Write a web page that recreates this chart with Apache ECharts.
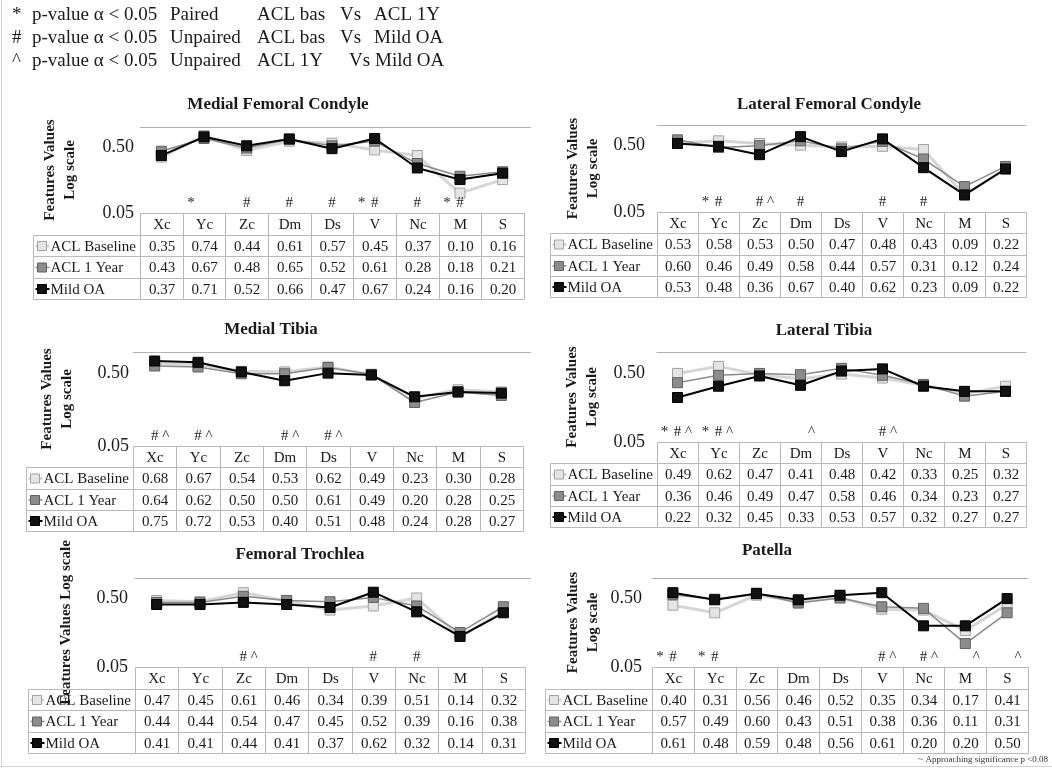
<!DOCTYPE html>
<html>
<head>
<meta charset="utf-8">
<script src="https://cdn.jsdelivr.net/npm/echarts@6/dist/echarts.min.js"></script>
<style>
  html, body { margin: 0; padding: 0; background: #ffffff; }
  #chart { width: 1052px; height: 768px; }
</style>
</head>
<body>
<div id="chart"></div>
<script>
// Shape features of cartilage regions, three cohorts, log-scaled values
const categories = ['Xc', 'Yc', 'Zc', 'Dm', 'Ds', 'V', 'Nc', 'M', 'S'];
const seriesNames = ['ACL Baseline', 'ACL 1 Year', 'Mild OA'];
const yTicks = [0.05, 0.5];
const yMin = 0.05;
const yMax = 1;

const titles = ['Medial Femoral Condyle', 'Lateral Femoral Condyle', 'Medial Tibia',
  'Lateral Tibia', 'Femoral Trochlea', 'Patella'];

// Medial Femoral Condyle
const mfcBaseline = [0.35, 0.74, 0.44, 0.61, 0.57, 0.45, 0.37, 0.10, 0.16];
const mfcYear1 = [0.43, 0.67, 0.48, 0.65, 0.52, 0.61, 0.28, 0.18, 0.21];
const mfcMildOA = [0.37, 0.71, 0.52, 0.66, 0.47, 0.67, 0.24, 0.16, 0.20];
const mfcSig = ['', '*', '#', '#', '#', '*#', '#', '*#', ''];

// Lateral Femoral Condyle
const lfcBaseline = [0.53, 0.58, 0.53, 0.50, 0.47, 0.48, 0.43, 0.09, 0.22];
const lfcYear1 = [0.60, 0.46, 0.49, 0.58, 0.44, 0.57, 0.31, 0.12, 0.24];
const lfcMildOA = [0.53, 0.48, 0.36, 0.67, 0.40, 0.62, 0.23, 0.09, 0.22];
const lfcSig = ['', '*#', '#^', '#', '', '#', '#', '', ''];

// Medial Tibia
const mtBaseline = [0.68, 0.67, 0.54, 0.53, 0.62, 0.49, 0.23, 0.30, 0.28];
const mtYear1 = [0.64, 0.62, 0.50, 0.50, 0.61, 0.49, 0.20, 0.28, 0.25];
const mtMildOA = [0.75, 0.72, 0.53, 0.40, 0.51, 0.48, 0.24, 0.28, 0.27];
const mtSig = ['#^', '#^', '', '#^', '#^', '', '', '', ''];

// Lateral Tibia
const ltBaseline = [0.49, 0.62, 0.47, 0.41, 0.48, 0.42, 0.33, 0.25, 0.32];
const ltYear1 = [0.36, 0.46, 0.49, 0.47, 0.58, 0.46, 0.34, 0.23, 0.27];
const ltMildOA = [0.22, 0.32, 0.45, 0.33, 0.53, 0.57, 0.32, 0.27, 0.27];
const ltSig = ['*#^', '*#^', '', '^', '', '#^', '', '', ''];

// Femoral Trochlea
const ftBaseline = [0.47, 0.45, 0.61, 0.46, 0.34, 0.39, 0.51, 0.14, 0.32];
const ftYear1 = [0.44, 0.44, 0.54, 0.47, 0.45, 0.52, 0.39, 0.16, 0.38];
const ftMildOA = [0.41, 0.41, 0.44, 0.41, 0.37, 0.62, 0.32, 0.14, 0.31];
const ftSig = ['', '', '#^', '', '', '#', '#', '', ''];

// Patella
const patBaseline = [0.40, 0.31, 0.56, 0.46, 0.52, 0.35, 0.34, 0.17, 0.41];
const patYear1 = [0.57, 0.49, 0.60, 0.43, 0.51, 0.38, 0.36, 0.11, 0.31];
const patMildOA = [0.61, 0.48, 0.59, 0.48, 0.56, 0.61, 0.20, 0.20, 0.50];
const patSig = ['*#', '*#', '', '', '', '#^', '#^', '^', '^'];

const legendLines = [
  ['*', 'p-value \u03b1 < 0.05', 'Paired', 'ACL bas', 'Vs', 'ACL 1Y'],
  ['#', 'p-value \u03b1 < 0.05', 'Unpaired', 'ACL bas', 'Vs', 'Mild OA'],
  ['^', 'p-value \u03b1 < 0.05', 'Unpaired', 'ACL 1Y', 'Vs', 'Mild OA']
];
const noteText = '~ Approaching significance p <0.08';

const panels = [
  { title: titles[0], values: [mfcBaseline, mfcYear1, mfcMildOA], sig: mfcSig, yName: 'Features Values\nLog scale' },
  { title: titles[1], values: [lfcBaseline, lfcYear1, lfcMildOA], sig: lfcSig, yName: 'Features Values\nLog scale' },
  { title: titles[2], values: [mtBaseline, mtYear1, mtMildOA], sig: mtSig, yName: 'Features Values\nLog scale' },
  { title: titles[3], values: [ltBaseline, ltYear1, ltMildOA], sig: ltSig, yName: 'Features Values\nLog scale' },
  { title: titles[4], values: [ftBaseline, ftYear1, ftMildOA], sig: ftSig, yName: 'Features Values Log scale' },
  { title: titles[5], values: [patBaseline, patYear1, patMildOA], sig: patSig, yName: 'Features Values\nLog scale' }
];

// Panel placement on the page (pixels)
const layout = [
  { left: 140, right: 524, top: 127, bottom: 213, rowH: 21.5, tx: 278, ty: 105, nameGap: 60, labelMargin: 6, lineEnd: 531 },
  { left: 657, right: 1026, top: 125, bottom: 212, rowH: 21.3, tx: 829, ty: 105, nameGap: 54, labelMargin: 12, lineEnd: 1026 },
  { left: 133, right: 523, top: 352, bottom: 446, rowH: 21.3, tx: 271, ty: 330, nameGap: 56, labelMargin: 4, lineEnd: 531 },
  { left: 657, right: 1026, top: 352, bottom: 442, rowH: 21.3, tx: 824, ty: 331, nameGap: 55, labelMargin: 12, lineEnd: 1026 },
  { left: 135, right: 525, top: 578, bottom: 667, rowH: 21.5, tx: 300, ty: 555, nameGap: 59, labelMargin: 7, lineEnd: 531 },
  { left: 652, right: 1028, top: 578, bottom: 667, rowH: 21.5, tx: 767, ty: 551, nameGap: 49, labelMargin: 10, lineEnd: 1028 }
];

const SERIF = '"Liberation Serif", "Times New Roman", serif';
const TEXT = '#1a1a1a';
const BORDER = '#b9b9b9';
const LABEL_COL_W = 107;

const seriesStyle = [
  { line: '#d6d6d6', width: 3, fill: '#e4e4e4', border: '#a3a3a3' },
  { line: '#8a8a8a', width: 1.5, fill: '#8c8c8c', border: '#616161' },
  { line: '#000000', width: 2, fill: '#111111', border: '#000000' }
];
const sigOffset = { '*': -13, '#': 0, '^': 11 };

const grid = [], xAxis = [], yAxis = [], series = [], graphic = [];

panels.forEach((panel, i) => {
  const L = layout[i];
  const w = L.right - L.left;
  const gChart = 2 * i, gTable = 2 * i + 1;

  grid.push({ left: L.left, top: L.top, width: w, height: L.bottom - L.top });
  grid.push({ left: L.left, top: L.bottom, width: w, height: 4 * L.rowH });

  xAxis.push({
    gridIndex: gChart, type: 'category', data: categories, position: 'top', boundaryGap: true,
    axisLine: { show: true, lineStyle: { color: '#b3b3b3', width: 1 } },
    axisTick: { show: false }, axisLabel: { show: false }, splitLine: { show: false }
  });
  xAxis.push({
    gridIndex: gTable, type: 'category', data: categories, boundaryGap: true, show: false
  });

  yAxis.push({
    gridIndex: gChart, type: 'log', logBase: 10, min: yMin, max: yMax,
    axisLine: { show: false }, axisTick: { show: false }, splitLine: { show: false },
    axisLabel: {
      customValues: yTicks, margin: L.labelMargin,
      formatter: v => Number(v).toFixed(2),
      fontFamily: SERIF, fontSize: 18, color: TEXT
    },
    name: panel.yName, nameLocation: 'middle', nameRotate: 90, nameGap: L.nameGap,
    nameTextStyle: { fontFamily: SERIF, fontSize: 15, fontWeight: 'bold', color: TEXT, lineHeight: 20 }
  });
  yAxis.push({
    gridIndex: gTable, type: 'category', data: ['head'].concat(seriesNames), inverse: true, show: false
  });

  panel.values.forEach((vals, s) => {
    const st = seriesStyle[s];
    series.push({
      type: 'line', name: seriesNames[s], xAxisIndex: gChart, yAxisIndex: gChart,
      data: vals, symbol: 'rect', symbolSize: 10, z: 2 + s,
      lineStyle: { color: st.line, width: st.width },
      itemStyle: { color: st.fill, borderColor: st.border, borderWidth: 1 },
      emphasis: { disabled: true }
    });
  });

  // significance symbols just above the bottom of the plot
  series.push({
    type: 'custom', xAxisIndex: gChart, yAxisIndex: gChart, z: 10, silent: true,
    data: panel.sig.map((s, c) => [c]),
    renderItem: (params, api) => {
      const c = params.dataIndex;
      const p = api.coord([c, yMin]);
      const chars = panel.sig[c].split('');
      return {
        type: 'group',
        children: chars.map(ch => ({
          type: 'text',
          style: {
            x: p[0] + sigOffset[ch], y: p[1] - 10, text: ch,
            textAlign: 'center', textVerticalAlign: 'middle',
            font: '15px ' + SERIF, fill: TEXT
          }
        }))
      };
    }
  });

  // data table under the plot
  const cells = [];
  for (let r = 0; r < 4; r++) for (let c = 0; c < categories.length; c++) cells.push([c, r]);
  series.push({
    type: 'custom', xAxisIndex: gTable, yAxisIndex: gTable, silent: true,
    data: cells,
    renderItem: (params, api) => {
      const c = api.value(0), r = api.value(1);
      const p = api.coord([c, r]);
      const s = api.size([1, 1]);
      const x = Math.round(p[0] - s[0] / 2) + 0.5, y = Math.round(p[1] - s[1] / 2) + 0.5;
      const cw = Math.round(p[0] + s[0] / 2) + 0.5 - x, ch = Math.round(p[1] + s[1] / 2) + 0.5 - y;
      const txt = r === 0 ? categories[c] : panel.values[r - 1][c].toFixed(2);
      const children = [
        { type: 'rect', shape: { x, y, width: cw, height: ch }, style: { fill: 'none', stroke: BORDER, lineWidth: 1 } },
        { type: 'text', style: { x: x + cw / 2, y: y + ch / 2 + 1, text: txt, textAlign: 'center', textVerticalAlign: 'middle', font: '15px ' + SERIF, fill: TEXT } }
      ];
      if (c === 0 && r > 0) {
        const st = seriesStyle[r - 1];
        const x0 = x - LABEL_COL_W;
        const cy = y + ch / 2;
        children.push(
          { type: 'rect', shape: { x: x0, y, width: LABEL_COL_W, height: ch }, style: { fill: 'none', stroke: BORDER, lineWidth: 1 } },
          { type: 'line', shape: { x1: x0 + 2, y1: cy, x2: x0 + 16, y2: cy }, style: { stroke: st.line, lineWidth: st.width } },
          { type: 'rect', shape: { x: x0 + 4, y: cy - 4.5, width: 9, height: 9 }, style: { fill: st.fill, stroke: st.border, lineWidth: 1 } },
          { type: 'text', style: { x: x0 + 17, y: cy + 1, text: seriesNames[r - 1], textAlign: 'left', textVerticalAlign: 'middle', font: '15px ' + SERIF, fill: TEXT } }
        );
      }
      return { type: 'group', children };
    }
  });

  // the plot's top rule runs a little past the table on the left-hand panels
  if (L.lineEnd > L.right) {
    graphic.push({
      type: 'line', shape: { x1: L.right, y1: L.top + 0.5, x2: L.lineEnd, y2: L.top + 0.5 },
      style: { stroke: '#b3b3b3', lineWidth: 1 }
    });
  }

  graphic.push({
    type: 'text', x: L.tx, y: L.ty,
    style: { text: panel.title, textAlign: 'center', textVerticalAlign: 'middle', font: 'bold 17px ' + SERIF, fill: TEXT }
  });
});

// significance key at the top
const keyCols = [12, 32, 170, 257, 340, 374];
const keyColsLast = [12, 32, 170, 257, 349, 375];
legendLines.forEach((line, k) => {
  const cols = k === 2 ? keyColsLast : keyCols;
  line.forEach((t, j) => {
    graphic.push({
      type: 'text', x: cols[j], y: 15 + k * 23,
      style: { text: t, textAlign: 'left', textVerticalAlign: 'middle', font: '19px ' + SERIF, fill: TEXT }
    });
  });
});

graphic.push(
  { type: 'text', x: 1048, y: 760, style: { text: noteText, textAlign: 'right', textVerticalAlign: 'middle', font: '9px ' + SERIF, fill: '#333' } },
  { type: 'line', shape: { x1: 1.5, y1: 0, x2: 1.5, y2: 768 }, style: { stroke: '#d2d2d2', lineWidth: 1 } },
  { type: 'line', shape: { x1: 0, y1: 766.5, x2: 1052, y2: 766.5 }, style: { stroke: '#d2d2d2', lineWidth: 1 } }
);

const chart = echarts.init(document.getElementById('chart'), null, { renderer: 'canvas' });
chart.setOption({
  backgroundColor: '#ffffff',
  animation: false,
  grid, xAxis, yAxis, series, graphic
});
</script>
</body>
</html>
